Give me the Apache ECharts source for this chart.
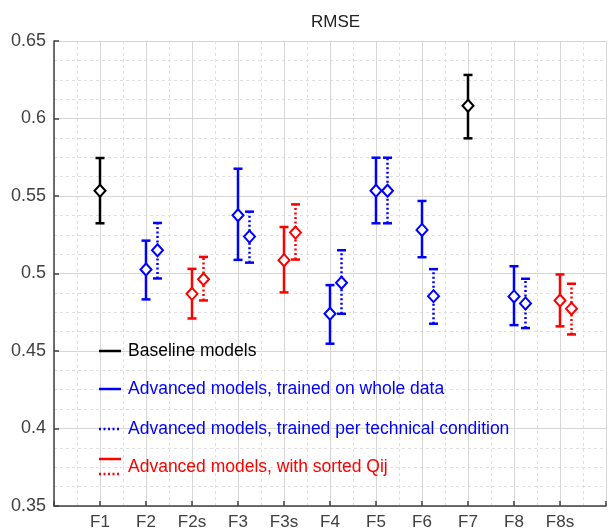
<!DOCTYPE html>
<html>
<head>
<meta charset="utf-8">
<script src="https://cdn.jsdelivr.net/npm/echarts@6/dist/echarts.min.js"></script>
<style>
html,body{margin:0;padding:0;background:#fff;}
#c{width:609px;height:531px;}
</style>
</head>
<body>
<div id="c"></div>
<script>
// ---- data ----
const categories = ['F1','F2','F2s','F3','F3s','F4','F5','F6','F7','F8','F8s'];
const yTicks = [0.35, 0.4, 0.45, 0.5, 0.55, 0.6, 0.65];

// Baseline models (black)
const baseCats = ['F1','F7'];
const baseMean = [0.5534, 0.6082];
const baseLow  = [0.5324, 0.5872];
const baseHigh = [0.5745, 0.6281];

// Advanced, trained on whole data (blue solid)
const wholeCats = ['F2','F3','F4','F5','F6','F8'];
const wholeMean = [0.5026, 0.5376, 0.4740, 0.5534, 0.5281, 0.4852];
const wholeLow  = [0.4833, 0.5088, 0.4547, 0.5324, 0.5105, 0.4667];
const wholeHigh = [0.5212, 0.5676, 0.4925, 0.5747, 0.5468, 0.5047];

// Advanced, trained per technical condition (blue dotted)
const perCats = ['F2','F3','F4','F5','F6','F8'];
const perMean = [0.5150, 0.5238, 0.4940, 0.5534, 0.4854, 0.4807];
const perLow  = [0.4968, 0.5070, 0.4740, 0.5324, 0.4676, 0.4648];
const perHigh = [0.5326, 0.5399, 0.5150, 0.5747, 0.5028, 0.4966];

// Advanced, with sorted Qij (red solid = whole data, red dotted = per condition)
const sortWholeCats = ['F2s','F3s','F8s'];
const sortWholeMean = [0.4869, 0.5086, 0.4826];
const sortWholeLow  = [0.4710, 0.4878, 0.4659];
const sortWholeHigh = [0.5030, 0.5300, 0.4994];

const sortPerCats = ['F2s','F3s','F8s'];
const sortPerMean = [0.4963, 0.5264, 0.4773];
const sortPerLow  = [0.4826, 0.5090, 0.4607];
const sortPerHigh = [0.5107, 0.5446, 0.4934];

const legendLabels = [
  'Baseline models',
  'Advanced models, trained on whole data',
  'Advanced models, trained per technical condition',
  'Advanced models, with sorted Qij'
];

// ---- styling ----
const BLACK = '#000000', BLUE = '#0000ff', RED = '#ff0000';
const DOT = [2, 2.5];
const FAMILY = 'Liberation Sans';

function errSeries(name, cats, mean, lo, hi, color, dotted, offset) {
  const data = cats.map((c, i) => [categories.indexOf(c) + 1 + offset, mean[i], lo[i], hi[i]]);
  return {
    type: 'custom',
    name: name,
    data: data,
    encode: { x: 0, y: [1, 2, 3] },
    clip: false,
    renderItem: function (params, api) {
      const x = api.value(0);
      const pm = api.coord([x, api.value(1)]);
      const pl = api.coord([x, api.value(2)]);
      const ph = api.coord([x, api.value(3)]);
      const cap = 4.5, dw = 5.5, dh = 6;
      const ls = { stroke: color, lineWidth: 2.5, lineDash: dotted ? DOT : null, fill: null };
      const cs = { stroke: color, lineWidth: 2.5, fill: null };
      return {
        type: 'group',
        children: [
          { type: 'line', shape: { x1: pl[0], y1: pl[1], x2: ph[0], y2: ph[1] }, style: ls },
          { type: 'line', shape: { x1: pl[0] - cap, y1: pl[1], x2: pl[0] + cap, y2: pl[1] }, style: cs },
          { type: 'line', shape: { x1: ph[0] - cap, y1: ph[1], x2: ph[0] + cap, y2: ph[1] }, style: cs },
          { type: 'polygon', shape: { points: [[pm[0], pm[1] - dh], [pm[0] + dw, pm[1]], [pm[0], pm[1] + dh], [pm[0] - dw, pm[1]]] },
            style: { fill: '#ffffff', stroke: color, lineWidth: 2 } }
        ]
      };
    }
  };
}

const chart = echarts.init(document.getElementById('c'), null, { renderer: 'canvas' });

const gridLeft = 54, gridTop = 41, gridW = 563, gridH = 466;

function legendItems() {
  const items = [];
  const lx1 = 99, lx2 = 121, tx = 128;
  const rows = [
    { y: 351, color: BLACK, lines: [{ y: 351, dash: null }] },
    { y: 389, color: BLUE, lines: [{ y: 389, dash: null }] },
    { y: 429, color: BLUE, lines: [{ y: 429, dash: DOT }] },
    { y: 467, color: RED, lines: [{ y: 459, dash: null }, { y: 474, dash: DOT }] }
  ];
  rows.forEach((r, i) => {
    r.lines.forEach(l => {
      items.push({ type: 'line', z: 50, shape: { x1: lx1, y1: l.y, x2: lx2, y2: l.y },
        style: { stroke: r.color, lineWidth: 2.5, lineDash: l.dash } });
    });
    items.push({ type: 'text', z: 50, x: tx, y: r.y,
      style: { text: legendLabels[i], fill: r.color, fontSize: 17.5, fontFamily: FAMILY, align: 'left', verticalAlign: 'middle' } });
  });
  return items;
}

const option = {
  animation: false,
  backgroundColor: '#ffffff',
  grid: { left: gridLeft, top: gridTop, width: gridW, height: gridH, containLabel: false },
  xAxis: {
    type: 'value', min: 0, max: 12, interval: 1,
    axisLine: { show: true, onZero: false, lineStyle: { color: '#404040', width: 1.5 } },
    axisTick: { show: true, inside: true, length: 5, lineStyle: { color: '#404040', width: 1.5 } },
    axisLabel: {
      color: '#404040', fontSize: 17, fontFamily: FAMILY, margin: 8,
      formatter: v => categories[Math.round(v) - 1] || ''
    },
    splitLine: { show: true, lineStyle: { color: '#d6d6d6', width: 1 } },
    minorTick: { show: false, splitNumber: 2 },
    minorSplitLine: { show: true, lineStyle: { color: '#e0e0e0', type: [3, 3], width: 1 } }
  },
  yAxis: {
    type: 'value', min: yTicks[0], max: yTicks[yTicks.length - 1], interval: 0.05,
    axisLine: { show: true, onZero: false, lineStyle: { color: '#404040', width: 1.5 } },
    axisTick: { show: true, inside: true, length: 5, lineStyle: { color: '#404040', width: 1.5 } },
    axisLabel: {
      color: '#404040', fontSize: 18, fontFamily: FAMILY, margin: 8,
      formatter: v => String(parseFloat(v.toFixed(2)))
    },
    splitLine: { show: true, lineStyle: { color: '#d6d6d6', width: 1 } },
    minorTick: { show: false, splitNumber: 4 },
    minorSplitLine: { show: true, lineStyle: { color: '#e0e0e0', type: [3, 3], width: 1 } }
  },
  graphic: [
    { type: 'text', z: 50, x: gridLeft + gridW / 2, y: 22,
      style: { text: 'RMSE', fill: '#222222', fontSize: 17, fontFamily: FAMILY, align: 'center', verticalAlign: 'middle' } }
  ].concat(legendItems()),
  series: [
    errSeries(legendLabels[0], baseCats, baseMean, baseLow, baseHigh, BLACK, false, 0),
    errSeries(legendLabels[1], wholeCats, wholeMean, wholeLow, wholeHigh, BLUE, false, 0),
    errSeries(legendLabels[2], perCats, perMean, perLow, perHigh, BLUE, true, 0.25),
    errSeries(legendLabels[3] + ' (whole)', sortWholeCats, sortWholeMean, sortWholeLow, sortWholeHigh, RED, false, 0),
    errSeries(legendLabels[3] + ' (per condition)', sortPerCats, sortPerMean, sortPerLow, sortPerHigh, RED, true, 0.25)
  ]
};

chart.setOption(option);
</script>
</body>
</html>
